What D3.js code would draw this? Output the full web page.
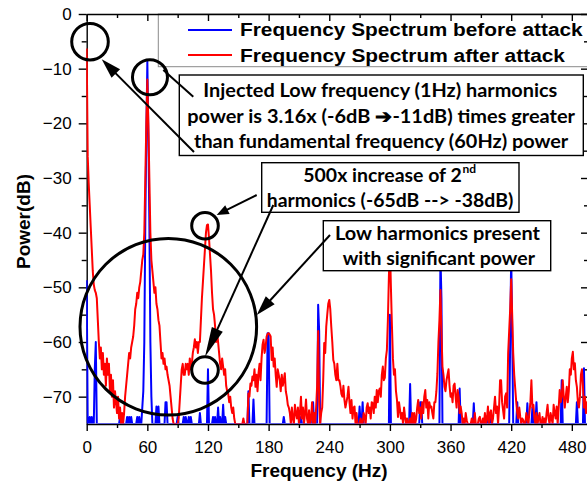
<!DOCTYPE html>
<html><head><meta charset="utf-8">
<script src="https://cdn.jsdelivr.net/npm/d3@7"></script>
<style>body{margin:0;background:#fff}svg{display:block}</style>
</head><body>
<svg id="c" width="587" height="486"></svg>
<script>
// ---------- data ----------
const xTicks = [0,60,120,180,240,300,360,420,480];
const xMinorTicks = [30,90,150,210,270,330,390,450];
const yTicks = [0,-10,-20,-30,-40,-50,-60,-70];
const yMinorTicks = [-5,-15,-25,-35,-45,-55,-65];
const seriesNames = ["Frequency Spectrum before attack","Frequency Spectrum after attack"];
const xTitle = "Frequency (Hz)";
const yTitle = "Power(dB)";

// 1 Hz resolution, 0..496 Hz
const before = [
-48.7,-75,-75,-73.7,-75,-73.7,-75,-75,-65,-60,
-75,-75,-75,-75,-75,-75,-75,-75,-75,-75,
-75,-75,-75,-75,-75,-75,-75,-75,-75,-75,
-75,-75,-75,-73.7,-75,-73.7,-75,-75,-75,-75,
-73.7,-75,-73.7,-75,-73.7,-75,-75,-75,-75,-75,
-73.7,-75,-73.7,-75,-75,-72,-69,-60,-38,-22,
-8.7,-22,-38,-60,-70,-75,-75,-75,-75,-71.8,
-75,-71.8,-75,-75,-75,-75,-75,-75,-71,-71,
-75,-75,-75,-75,-75,-75,-75,-75,-75,-75,
-73.7,-75,-75,-75,-75,-75,-73.7,-75,-73.7,-75,
-75,-73.7,-75,-73.7,-75,-75,-75,-75,-75,-75,
-75,-75,-73,-75,-75,-75,-75,-75,-75,-75,
-65,-75,-75,-75,-75,-73.7,-75,-73.7,-75,-75,
-72,-75,-73.7,-75,-75,-71.5,-75,-73.7,-75,-75,
-75,-75,-75,-75,-75,-75,-75,-75,-75,-75,
-75,-75,-75,-75,-75,-75,-75,-75,-75,-75,
-69,-75,-75,-75,-75,-70.5,-75,-75,-75,-75,
-75,-75,-75,-75,-75,-75,-75,-75,-75,-58.4,
-58.4,-75,-75,-75,-75,-75,-75,-75,-75,-75,
-75,-75,-75,-75,-75,-73.7,-75,-75,-75,-75,
-75,-75,-75,-75,-75,-75,-75,-75,-75,-75,
-75,-75,-73.7,-75,-75,-75,-75,-75,-75,-75,
-75,-75,-75,-75,-71,-75,-75,-75,-75,-53.2,
-58,-75,-75,-75,-75,-75,-75,-75,-75,-75,
-75,-75,-75,-75,-75,-75,-75,-75,-75,-75,
-75,-75,-75,-75,-75,-75,-75,-75,-75,-75,
-75,-75,-75,-75,-75,-75,-75,-75,-75,-75,
-71.8,-75,-75,-71,-75,-75,-75,-75,-75,-75,
-75,-75,-75,-75,-75,-75,-75,-75,-75,-75,
-75,-75,-75,-75,-75,-75,-75,-75,-75,-75,
-55,-75,-75,-75,-75,-75,-75,-75,-75,-75,
-75,-75,-75,-75,-75,-75,-75,-75,-75,-75,
-67.7,-75,-75,-75,-75,-75,-75,-75,-75,-75,
-71,-71,-75,-75,-75,-75,-75,-75,-75,-75,
-75,-75,-75,-75,-75,-75,-75,-75,-75,-75,
-44,-52,-75,-75,-75,-75,-75,-75,-75,-75,
-75,-75,-75,-75,-75,-75,-75,-75,-75,-68.5,
-75,-75,-75,-75,-75,-75,-75,-75,-75,-75,
-75,-75,-75,-71.2,-75,-75,-75,-75,-75,-75,
-75,-75,-75,-75,-75,-75,-73.7,-75,-75,-75,
-73.7,-75,-75,-75,-75,-75,-75,-75,-75,-75,
-75,-75,-75,-75,-75,-75,-75,-75,-75,-60,
-44,-58,-75,-75,-75,-75,-71,-75,-75,-75,
-75,-75,-75,-75,-75,-75,-71.2,-75,-75,-75,
-75,-72,-75,-75,-75,-71,-75,-75,-75,-75,
-75,-75,-75,-75,-75,-75,-75,-75,-75,-75,
-75,-75,-75,-75,-75,-75,-75,-75,-75,-75,
-67,-75,-75,-75,-75,-75,-75,-75,-75,-75,
-75,-75,-75,-75,-75,-71,-75,-75,-75,-75,
-75,-75,-64.8,-75,-75,-75,-75
];

const after = [
-6.3,-26,-31,-35,-39,-43,-47,-49.5,-50.5,-51,
-52,-56,-60,-63,-61,-65,-62,-66,-64,-68,
-63,-66,-64,-69,-66,-70,-67,-72,-69,-71,
-73,-70,-74,-72,-75,-73,-75,-73,-70,-68,
-66,-64,-62,-63,-61,-60,-59,-57,-54,-53,
-51,-52,-50,-49,-47,-45,-44,-40,-30,-20,
-12,-20,-30,-40,-45,-47,-49,-51,-50,-53,
-54,-56,-57,-60,-63,-62,-64,-63,-65,-64.5,
-66,-67,-68,-70,-72,-74,-75,-75,-75,-75,
-75,-74,-71,-68,-65,-64,-66,-66,-64,-65,
-64,-66,-63,-65,-64,-62,-61,-59.5,-61,-60,
-62,-60,-60,-56,-52,-49,-46,-43,-40,-38.6,
-38.5,-41,-44,-47,-51,-54,-55,-57,-60,-58,
-60,-62,-64,-65,-63,-64.5,-66,-65,-68,-69,
-69.5,-71,-70,-72,-73,-72,-74,-75,-75,-75,
-75,-75,-75,-75,-75,-74,-75,-75,-75,-75,
-69.4,-70,-67.6,-68,-66.3,-67,-65,-68.2,-66,-69,
-65.7,-64,-67,-63,-60.5,-59.6,-62,-61,-59,-58.5,
-58.4,-58.6,-59,-63.3,-61,-64.5,-63,-66,-68.2,-65,
-66,-67,-69,-66,-68,-67,-65.7,-69,-70,-71.5,
-72,-73,-75,-72,-74,-75,-71.5,-73,-74,-72,
-75,-73,-70,-74,-72,-75,-73,-70.5,-74,-75,
-72.5,-75,-74,-71,-75,-73,-75,-72,-68,-58,
-71,-75,-73,-72,-67,-60.2,-62,-57.2,-55,-53,
-52.3,-54,-57.2,-60,-63.3,-64,-66,-67,-64,-67,
-67,-68,-69.5,-70,-68,-70.6,-72,-71,-70,-68.2,
-71,-73,-70.6,-74,-72,-71.8,-75,-73,-75,-75,
-75,-74,-75,-75,-73,-73.7,-75,-72,-71.2,-73,
-72,-74,-71,-71.2,-73,-70,-72,-68.8,-71,-69,
-68.5,-70,-66,-64.5,-67,-66.5,-63,-61.5,-56,-48,
-42,-50,-57,-63,-66,-65,-69,-70.6,-73.7,-71,
-72.4,-74,-73,-75,-72,-73.7,-75,-74,-75,-75,
-74,-75,-73,-75,-73,-75,-74,-72,-70.6,-73,
-72,-74,-71,-73,-70,-68.8,-72,-70.6,-74,-71,
-72,-71.8,-73,-74,-71,-71,-69,-65.7,-60,-56,
-50.5,-58,-64.5,-66,-68.2,-69,-67,-66,-65,-68,
-70,-69.4,-71,-68,-67.6,-70,-72,-68.8,-70,-73,
-71.8,-73,-75,-74,-75,-73,-74.3,-75,-75,-75,
-75,-74,-75,-75,-73,-75,-75,-75,-74,-73.7,
-75,-75,-74,-75,-73,-75,-74,-71.8,-75,-73,
-72.5,-75,-74,-72,-70,-73,-71.8,-75,-72,-67,
-67,-71,-72.5,-74,-70,-69.4,-72,-62,-58,-54,
-48.5,-55,-62,-66,-68.5,-71,-73,-74,-72,-73.7,
-75,-74,-74.3,-75,-75,-73,-74,-75,-73,-71,
-67,-72,-71.5,-74,-75,-73,-75,-74,-73,-75,
-75,-73.7,-75,-74,-75,-73,-71.5,-74,-75,-73,
-74,-75,-71.5,-73,-74,-71.8,-75,-72,-68.8,-71,
-70,-67,-70,-72,-70,-68.2,-71,-69,-65,-66,
-63,-61.8,-65,-63.9,-67,-68.2,-71,-72,-70,-66,
-65,-68,-72,-70,-73,-71,-73
];
const seriesColors = ["#0000ff","#ff0000"];

// annotation texts
const box1Lines = ["Injected Low frequency (1Hz) harmonics","power is 3.16x (-6dB \u2794-11dB) times greater","than fundamental frequency (60Hz) power"];
const box2Lines = ["500x increase of 2","harmonics (-65dB --> -38dB)"];
const box2Sup = "nd";
const box3Lines = ["Low harmonics present","with significant power"];

// ---------- drawing ----------
const W = 587, H = 486;
const m = {l:86.7, r:588, t:14, b:424};
const svg = d3.select("#c");
const x = d3.scaleLinear().domain([0,496]).range([m.l,m.r]);
const y = d3.scaleLinear().domain([-75,0]).range([m.b,m.t]);
const AX = "'Liberation Sans', Arial, sans-serif";
const AN = "Lato, 'Open Sans', sans-serif";

svg.append("rect").attr("width",W).attr("height",H).attr("fill","#fff");

// legend frame
svg.append("rect").attr("x",158.3).attr("y",m.t).attr("width",460).attr("height",52.7)
  .attr("fill","#fff").attr("stroke","#8a8a8a").attr("stroke-width",1);

function styleAxis(g, keepDomain){
  g.selectAll("line").attr("stroke","#000").attr("stroke-width",1.4);
  g.select(".domain").attr("stroke", keepDomain ? "#000" : "none").attr("stroke-width",1.4);
  g.selectAll("text").attr("font-family",AX).attr("font-size",17).attr("fill","#000");
}
// bottom
svg.append("g").attr("transform",`translate(0,${m.b})`)
  .call(d3.axisBottom(x).tickValues(xTicks).tickSize(7).tickSizeOuter(0).tickPadding(10))
  .call(g=>styleAxis(g,true));
svg.append("g").attr("transform",`translate(0,${m.b})`)
  .call(d3.axisBottom(x).tickValues(xMinorTicks).tickSize(4).tickFormat(""))
  .call(g=>styleAxis(g,false));
// top
svg.append("g").attr("transform",`translate(0,${m.t})`)
  .call(d3.axisTop(x).tickValues(xTicks).tickSize(-7).tickSizeOuter(0).tickFormat(""))
  .call(g=>styleAxis(g,true));
svg.append("g").attr("transform",`translate(0,${m.t})`)
  .call(d3.axisTop(x).tickValues(xMinorTicks).tickSize(-4).tickFormat(""))
  .call(g=>styleAxis(g,false));
// left
svg.append("g").attr("transform",`translate(${m.l},0)`)
  .call(d3.axisLeft(y).tickValues(yTicks).tickSize(8).tickSizeOuter(0).tickPadding(7))
  .call(g=>styleAxis(g,true));
svg.append("g").attr("transform",`translate(${m.l},0)`)
  .call(d3.axisLeft(y).tickValues(yMinorTicks).tickSize(5).tickFormat(""))
  .call(g=>styleAxis(g,false));
// right
svg.append("g").attr("transform",`translate(${m.r},0)`)
  .call(d3.axisRight(y).tickValues(yTicks).tickSize(-7).tickSizeOuter(0).tickFormat(""))
  .call(g=>styleAxis(g,true));
svg.append("g").attr("transform",`translate(${m.r},0)`)
  .call(d3.axisRight(y).tickValues(yMinorTicks).tickSize(-4).tickFormat(""))
  .call(g=>styleAxis(g,false));

// lines
svg.append("clipPath").attr("id","pc").append("rect")
  .attr("x",m.l-0.5).attr("y",m.t).attr("width",m.r-m.l+1).attr("height",m.b-m.t-0.6);
const line = d3.line().x((d,i)=>x(i)).y(d=>y(d));
const plot = svg.append("g").attr("clip-path","url(#pc)");
[before, after].forEach((s,k)=>{
  plot.append("path").datum(s).attr("d",line).attr("fill","none")
    .attr("stroke",seriesColors[k]).attr("stroke-width",2).attr("stroke-linejoin","round");
});

// legend items
const legY = [30,55], legBase = [36,61.7], legW = [342.7,325];
seriesNames.forEach((n,k)=>{
  svg.append("line").attr("x1",188).attr("x2",232).attr("y1",legY[k]).attr("y2",legY[k])
    .attr("stroke",seriesColors[k]).attr("stroke-width",2);
  svg.append("text").attr("x",240).attr("y",legBase[k]).text(n)
    .attr("font-family",AX).attr("font-weight","bold").attr("font-size",18)
    .attr("textLength",legW[k]).attr("lengthAdjust","spacingAndGlyphs");
});

// axis titles
svg.append("text").attr("transform","translate(30,221.5) rotate(-90)").attr("text-anchor","middle")
  .attr("font-family",AX).attr("font-weight","bold").attr("font-size",19).text(yTitle);
svg.append("text").attr("x",319).attr("y",477).attr("text-anchor","middle")
  .attr("font-family",AX).attr("font-weight","bold").attr("font-size",19).text(xTitle);

// annotation boxes
function box(bx,by,bw,bh){
  svg.append("rect").attr("x",bx).attr("y",by).attr("width",bw).attr("height",bh)
    .attr("fill","#fff").attr("stroke","#000").attr("stroke-width",1.4);
}
function atext(str,tx,ty,tw,fs){
  const t = svg.append("text").attr("x",tx).attr("y",ty).text(str)
    .attr("font-family",AN).attr("font-weight","bold").attr("font-size",fs||18.5).attr("fill","#000");
  if(tw) t.attr("textLength",tw).attr("lengthAdjust","spacingAndGlyphs");
  return t;
}
box(179.3,75,404,80.5);
atext(box1Lines[0],203.3,96.7,354);
atext(box1Lines[1],187.3,123.3,387.7);
atext(box1Lines[2],194,148.3,374.3);
box(261.7,162.7,257.3,49.6);
atext(box2Lines[0],303.3,181.7,158.4);
atext(box2Sup,462.5,172.5,null,12);
atext(box2Lines[1],266.7,206.7,246.6);
box(323.3,220.7,227.4,50);
atext(box3Lines[0],335,240,205);
atext(box3Lines[1],342.7,265,192.3);

// circles (centres in data units)
const circles = [
  {f:3.27,db:-5.07,r:18.3},{f:62.6,db:-11.58,r:17.5},
  {f:117.05,db:-38.73,r:13.3},{f:117.05,db:-65.12,r:13.3},
  {f:80.74,db:-57.2,r:88.3}
];
circles.forEach(c=>{
  svg.append("circle").attr("cx",x(c.f)).attr("cy",y(c.db)).attr("r",c.r)
    .attr("fill","none").attr("stroke","#000").attr("stroke-width",3);
});

// arrows
function arrow(x1,y1,x2,y2,L,Wd){
  const dx=x2-x1, dy=y2-y1, len=Math.hypot(dx,dy), ux=dx/len, uy=dy/len;
  const bxp = L? x2-ux*L*0.8 : x2, byp = L? y2-uy*L*0.8 : y2;
  svg.append("line").attr("x1",x1).attr("y1",y1).attr("x2",bxp).attr("y2",byp)
    .attr("stroke","#000").attr("stroke-width",2);
  if(L){
    const cx=x2-ux*L, cy=y2-uy*L;
    svg.append("polygon").attr("points",
      `${x2},${y2} ${cx-uy*Wd},${cy+ux*Wd} ${cx+uy*Wd},${cy-ux*Wd}`).attr("fill","#000");
  }
}
arrow(194,152,101.7,59.3,20,6);
arrow(163.3,70,193.3,96.7,0,0);
arrow(256.7,195,216.7,215,12,5);
arrow(273.3,205,205,356.7,30,6);
arrow(330,235,256.7,315,20,6);
</script>
</body></html>
